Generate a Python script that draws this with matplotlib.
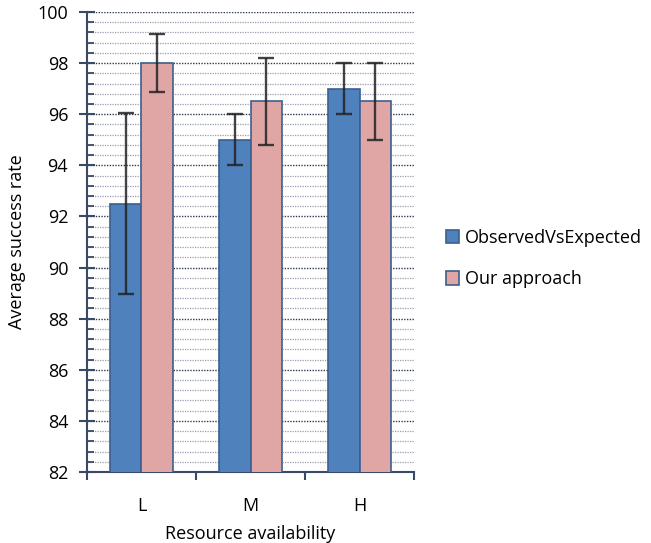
import matplotlib
matplotlib.use("Agg")
import matplotlib.pyplot as plt
import numpy as np
from matplotlib.ticker import MultipleLocator

plt.rcParams['font.family'] = ['Open Sans', 'DejaVu Sans']

categories = ["L", "M", "H"]
series_names = ["ObservedVsExpected", "Our approach"]
observed = [92.5, 95.0, 97.0]
observed_err = [3.55, 1.0, 1.0]
ours = [98.0, 96.5, 96.5]
ours_err = [1.15, 1.7, 1.5]
yticks = [82, 84, 86, 88, 90, 92, 94, 96, 98, 100]

fig = plt.figure(figsize=(6.51, 5.43), dpi=100)
ax = fig.add_axes([0.1336, 0.1308, 0.636 - 0.1336, 0.978 - 0.1308])

x = np.arange(len(categories))
w = 0.285
edge = "#3b5f8f"
ekw = dict(ecolor="#222222", elinewidth=1.7, capsize=6, capthick=1.7, alpha=0.85)
ax.bar(x - w/2, observed, w, yerr=observed_err, color="#4f81bd", edgecolor=edge,
       linewidth=1.2, label=series_names[0], error_kw=ekw, zorder=3)
ax.bar(x + w/2, ours, w, yerr=ours_err, color="#e0a6a6", edgecolor=edge,
       linewidth=1.2, label=series_names[1], error_kw=ekw, zorder=3)

ax.set_ylim(82, 100)
ax.set_xlim(-0.5, len(categories) - 0.5)
ax.set_yticks(yticks)
ax.yaxis.set_minor_locator(MultipleLocator(0.4))
ax.grid(axis='y', which='major', linestyle=(0, (1, 1)), color="#2f3a55", linewidth=1.0, zorder=0)
ax.grid(axis='y', which='minor', linestyle=(0, (1, 1)), color="#9a9fae", linewidth=0.9, zorder=0)

ax.set_xticks(np.arange(len(categories) + 1) - 0.5)
ax.set_xticklabels([])
ax.set_xticks(x, minor=True)
ax.set_xticklabels(categories, minor=True)
ax.tick_params(axis='x', which='minor', length=0, pad=18, labelsize=13)
ax.tick_params(axis='x', which='major', length=6, width=1.5, direction='out', color="#3a4a66")
ax.tick_params(axis='y', which='major', length=11, width=1.5, direction='inout', color="#3a4a66",
               labelsize=13, pad=8)
ax.tick_params(axis='y', which='minor', length=5, width=1.3, direction='in', color="#3a4a66")

for s in ['top', 'right']:
    ax.spines[s].set_visible(False)
for s in ['left', 'bottom']:
    ax.spines[s].set_color("#3a4a66")
    ax.spines[s].set_linewidth(1.5)

ax.set_ylabel("Average success rate", fontsize=13, labelpad=8)
ax.set_xlabel("Resource availability", fontsize=13, labelpad=7)

leg = fig.legend(loc='center left', bbox_to_anchor=(0.66, 0.524), frameon=False,
                 fontsize=13, handlelength=0.75, handleheight=0.75, handletextpad=0.3,
                 labelspacing=1.3)

fig.savefig("out.png", dpi=100)
